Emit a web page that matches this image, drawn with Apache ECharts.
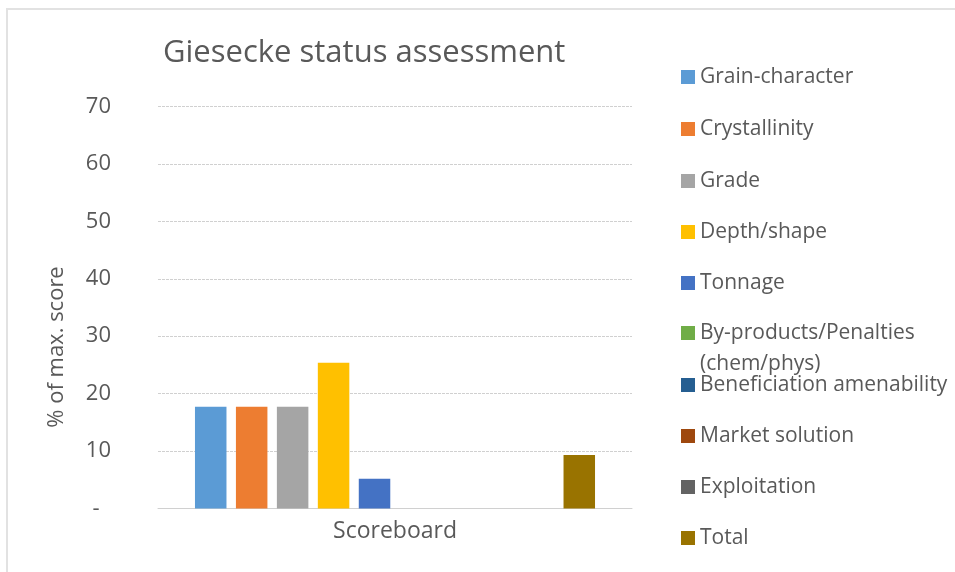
<!DOCTYPE html>
<html>
<head>
<meta charset="utf-8">
<script src="https://cdn.jsdelivr.net/npm/echarts@6/dist/echarts.min.js"></script>
<style>html,body{margin:0;padding:0;background:#fff}#c{width:955px;height:572px}</style>
</head>
<body>
<div id="c"></div>
<script>
var categories = ['Scoreboard'];
var seriesNames = ['Grain-character','Crystallinity','Grade','Depth/shape','Tonnage','By-products/Penalties (chem/phys)','Beneficiation amenability','Market solution','Exploitation','Total'];
var seriesValues = [17.7, 17.7, 17.7, 25.4, 5.2, 0, 0, 0, 0, 9.3];
var seriesColors = ['#5B9BD5','#ED7D31','#A5A5A5','#FFC000','#4472C4','#70AD47','#255E91','#9E480E','#636363','#997300'];
var yTicks = [0,10,20,30,40,50,60,70];

var font = 'Open Sans, Noto Sans, sans-serif';
var legendCenters = [77,129,181,232,283,333,385,436,487,538];
var LH = 31;

var series = seriesNames.map(function(n,i){
  return {
    type:'bar', name:n, data:[seriesValues[i]],
    barWidth:31.5, barGap:'30%',
    itemStyle:{color:seriesColors[i]},
    animation:false
  };
});

var legends = seriesNames.map(function(n,i){
  var two = n.indexOf(' (')>=0;
  return {
    left:681, top:legendCenters[i]-(two?1.5*LH:LH/2), orient:'vertical',
    padding:0,
    itemWidth:14, itemHeight:14, itemGap:0,
    icon:'rect', selectedMode:false,
    data:[n],
    formatter: function(name){ return two ? ' \n' + name.replace(' (','\n(') : name; },
    textStyle:{fontFamily:font, fontSize:21, color:'#595959', lineHeight:LH}
  };
});

var chart = echarts.init(document.getElementById('c'));
chart.setOption({
  animation:false,
  title:{text:'Giesecke status assessment', left:158, top:33,
    textStyle:{fontFamily:font, fontSize:31, fontWeight:'normal', color:'#595959'}},
  legend:legends,
  grid:{left:158, right:323, top:106.5, bottom:63.5, containLabel:false},
  xAxis:{type:'category', data:categories,
    axisLine:{lineStyle:{color:'#d0d0d0', width:1}},
    axisTick:{show:false},
    axisLabel:{fontFamily:font, fontSize:23, color:'#595959', margin:11}},
  yAxis:{type:'value', min:yTicks[0], max:yTicks[yTicks.length-1], interval:10,
    axisLine:{show:false}, axisTick:{show:false},
    splitLine:{lineStyle:{color:'#d0d0d0', type:[3,1]}},
    axisLabel:{fontFamily:font, fontSize:22, color:'#595959', margin:47,
      formatter:function(v){return v===0?'-  ':String(v);}}},
  graphic:[
    {type:'rect', shape:{x:7,y:9,width:1000,height:1000}, style:{fill:'none', stroke:'#e2e2e2', lineWidth:2}, silent:true, z:-10},
    {type:'text', x:57, y:347, rotation:Math.PI/2, style:{text:'% of max. score', fontFamily:font, fontSize:22, fill:'#595959', align:'center', verticalAlign:'middle'}}
  ],
  series:series
});
</script>
</body>
</html>
